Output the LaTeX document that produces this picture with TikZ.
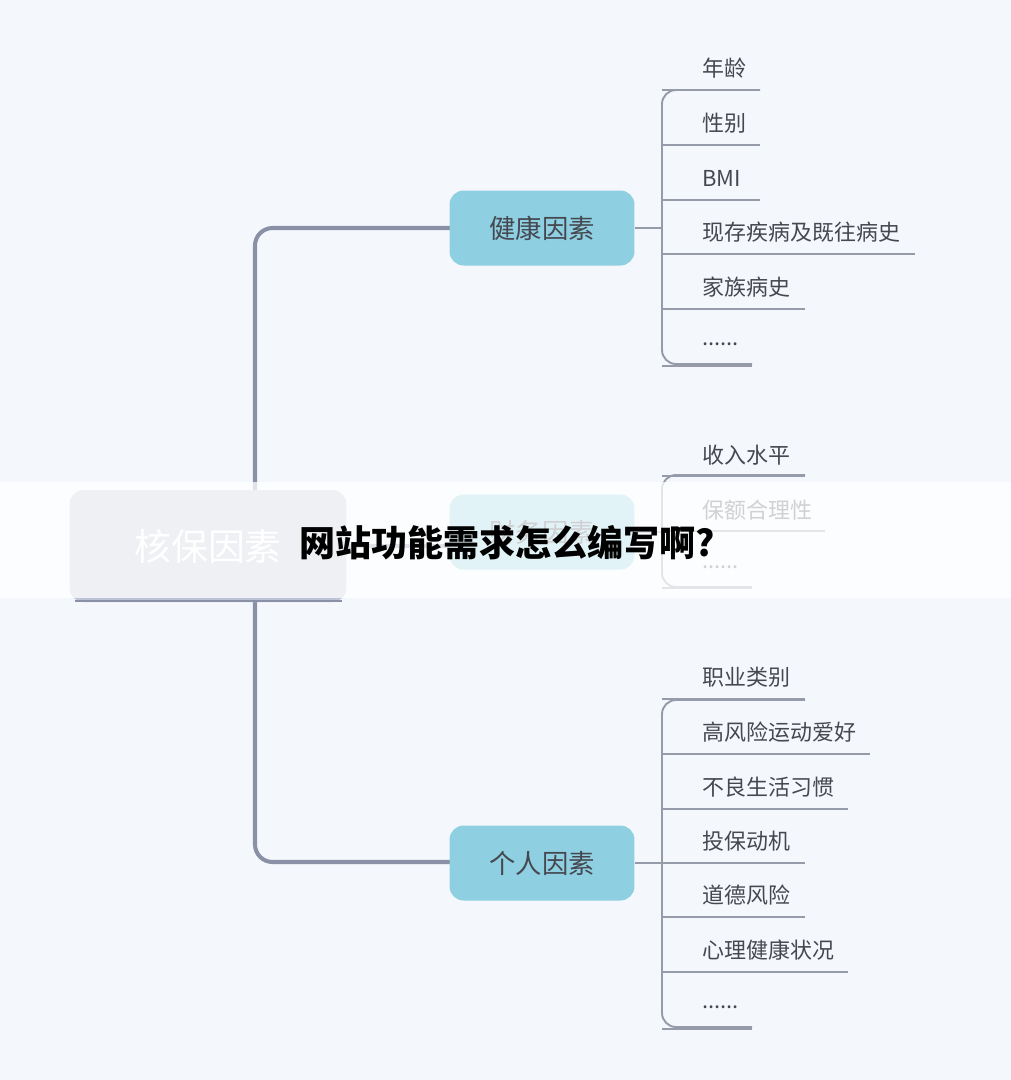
\documentclass[tikz,border=0pt]{standalone}
\usepackage{fontspec}
\setmainfont{Noto Sans CJK SC}
\usetikzlibrary{positioning}
\definecolor{bgpaper}{RGB}{244,248,252}
\definecolor{rootgray}{RGB}{190,196,214}
\definecolor{branchblue}{RGB}{142,208,226}
\definecolor{linegray}{RGB}{150,155,170}
\definecolor{spinegray}{RGB}{138,144,166}
\definecolor{textgray}{RGB}{70,72,80}
\newcommand{\moredots}{......}

\tikzset{
  branchbox/.style={rectangle, fill=branchblue, rounded corners=8pt, minimum width=3.7cm, minimum height=1.5cm, font=\fontsize{15}{15}\selectfont, text=textgray},
  leaftext/.style={anchor=west, font=\fontsize{12.5}{12.5}\selectfont, text=textgray, inner sep=0pt},
  leafline/.style={draw=linegray, line width=1.1pt}
}

\begin{document}
\begin{tikzpicture}[x=0.02cm, y=-0.02cm]
\useasboundingbox[fill=bgpaper] (0,0) rectangle (1011,1080);

% root and spine
\draw[spinegray, line width=2.3pt, rounded corners=10pt] (450,228) -- (255,228) -- (255,862) -- (450,862);
\node[rectangle, fill=rootgray, rounded corners=8pt, minimum width=5.54cm, minimum height=2.24cm, font=\fontsize{21}{21}\selectfont, text=white] (root) at (208,546) {核保因素};
\draw[spinegray, line width=1.5pt] (75,601) -- (342,601);
\draw[spinegray, line width=2.3pt] (root.east) -- (450,546);

% branches
\node[branchbox] (health) at (542,228) {健康因素};
\node[branchbox] (money) at (542,532) {财务因素};
\node[branchbox] (person) at (542,863) {个人因素};

% health leaves
\draw[leafline, rounded corners=8pt] (760,90) -- (662,90) -- (662,364) -- (752,364);
\draw[leafline] (health.east) -- (662,228);
\foreach \t/\y/\e [count=\i] in {年龄/68/760, 性别/123/760, BMI/178/760, 现存疾病及既往病史/232/915, 家族病史/287/805, \moredots/344/752}{
  \node[leaftext] (h\i) at (702,\y) {\t};
  \draw[leafline] (662,\y+22) -- (\e,\y+22);
}

% money leaves
\draw[leafline, rounded corners=8pt] (805,475) -- (662,475) -- (662,587) -- (752,587);
\draw[leafline] (money.east) -- (662,532);
\foreach \t/\y/\e [count=\i] in {收入水平/455/805, 保额合理性/510/825, \moredots/567/752}{
  \node[leaftext] (m\i) at (702,\y) {\t};
  \draw[leafline] (662,\y+21) -- (\e,\y+21);
}

% person leaves
\draw[leafline, rounded corners=8pt] (805,700) -- (662,700) -- (662,1027) -- (752,1027);
\draw[leafline] (person.east) -- (662,863);
\foreach \t/\y/\e [count=\i] in {职业类别/677/805, 高风险运动爱好/732/870, 不良生活习惯/787/848, 投保动机/841/805, 道德风险/895/805, 心理健康状况/950/848, \moredots/1007/752}{
  \node[leaftext] (p\i) at (702,\y) {\t};
  \draw[leafline] (662,\y+22) -- (\e,\y+22);
}

% banner
\fill[white, opacity=0.75] (0,482) rectangle (1011,598);
\node[font=\fontsize{20.5}{20.5}\bfseries\selectfont, text=black] (banner) at (507,543) {网站功能需求怎么编写啊?};
\end{tikzpicture}
\end{document}
